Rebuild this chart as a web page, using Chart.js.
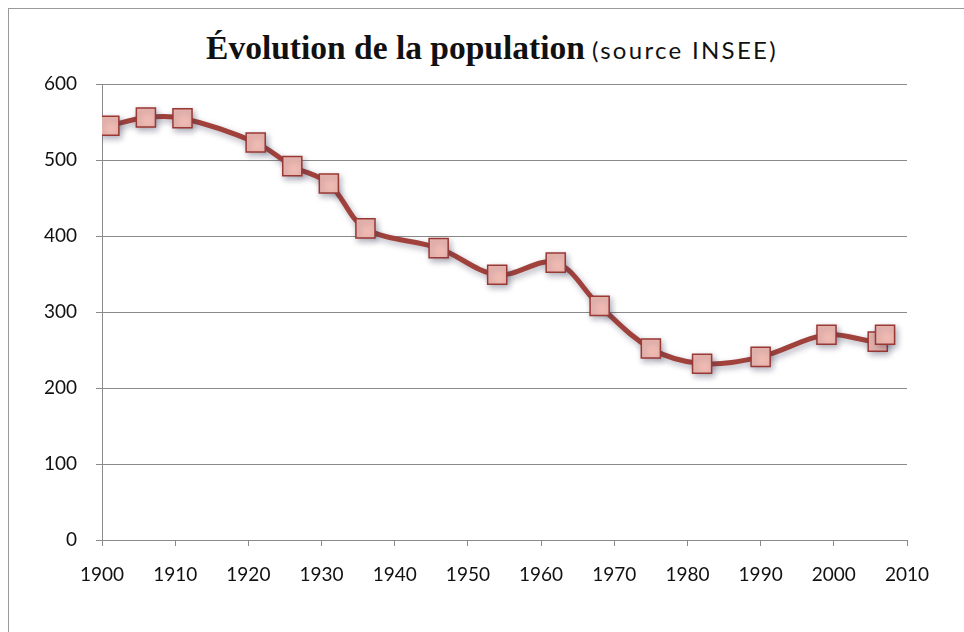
<!DOCTYPE html>
<html>
<head>
<meta charset="utf-8">
<script src="https://cdn.jsdelivr.net/npm/chart.js@4"></script>
<style>
  html, body { margin: 0; padding: 0; background: #fff; }
  #wrap { position: relative; width: 964px; height: 632px; overflow: hidden; }
  #frame { position: absolute; left: 8px; top: 8px; width: 960px; height: 640px; border: 1px solid #9a9a9a; box-sizing: border-box; }
  #title { position: absolute; left: 0; top: 29px; width: 984px; text-align: center; white-space: nowrap; color: #111; }
  #title .main { font-family: "Liberation Serif", serif; font-weight: bold; font-size: 33.5px; }
  #title .sub { font-family: Lato, sans-serif; font-size: 24px; letter-spacing: 2.3px; margin-left: 3px; }
  canvas { position: absolute; left: 0; top: 0; }
</style>
</head>
<body>
<div id="wrap">
  <div id="frame"></div>
  <div id="title"><span class="main">Évolution de la population</span> <span class="sub">(source INSEE)</span></div>
  <canvas id="c" width="964" height="632"></canvas>
</div>
<script>
const years = [1901, 1906, 1911, 1921, 1926, 1931, 1936, 1946, 1954, 1962, 1968, 1975, 1982, 1990, 1999, 2006, 2007];
const population = [545, 556, 555, 523, 492, 469, 410, 384, 349, 365, 308, 252, 232, 241, 270, 261, 270];
const xTicks = [1900, 1910, 1920, 1930, 1940, 1950, 1960, 1970, 1980, 1990, 2000, 2010];
const yTicks = [0, 100, 200, 300, 400, 500, 600];

const shadowPlugin = {
  id: 'shadow',
  beforeDatasetDraw(chart) {
    const ctx = chart.ctx;
    ctx.save();
    ctx.shadowColor = 'rgba(60,60,90,0.4)';
    ctx.shadowBlur = 6;
    ctx.shadowOffsetX = 2;
    ctx.shadowOffsetY = 3;
  },
  afterDatasetDraw(chart) {
    chart.ctx.restore();
  }
};

new Chart(document.getElementById('c'), {
  type: 'line',
  data: {
    datasets: [{
      data: years.map((y, i) => ({ x: y, y: population[i] })),
      borderColor: '#a0413c',
      borderWidth: 5,
      tension: 0.35,
      pointStyle: 'rect',
      pointRadius: 13.5,
      pointHoverRadius: 13.5,
      pointBackgroundColor: '#efbab2',
      pointBorderColor: '#9a3834',
      pointBorderWidth: 1.5
    }]
  },
  options: {
    responsive: false,
    animation: false,
    events: [],
    layout: { padding: { left: 0, right: 57, top: 84, bottom: 40 } },
    plugins: { legend: { display: false }, tooltip: { enabled: false }, title: { display: false } },
    scales: {
      x: {
        type: 'linear',
        min: 1900, max: 2010,
        afterBuildTicks(s) { s.ticks = xTicks.map(v => ({ value: v })); },
        afterFit(s) { s.height = 52; },
        grid: { drawOnChartArea: false, drawTicks: true, tickLength: 6, color: '#8a8a8a', lineWidth: 1 },
        border: { display: true, color: '#8a8a8a', width: 1 },
        ticks: { padding: 17, color: '#111', font: { family: 'Lato', size: 19 }, maxRotation: 0, autoSkip: false, callback: v => String(v) }
      },
      y: {
        min: 0, max: 600,
        afterBuildTicks(s) { s.ticks = yTicks.map(v => ({ value: v })); },
        afterFit(s) { s.width = 102; },
        grid: { drawOnChartArea: true, drawTicks: true, tickLength: 6, color: '#8a8a8a', lineWidth: 1 },
        border: { display: true, color: '#8a8a8a', width: 1 },
        ticks: { padding: 19, color: '#111', font: { family: 'Lato', size: 19 }, callback: v => String(v) }
      }
    }
  },
  plugins: [shadowPlugin]
});
</script>
</body>
</html>
